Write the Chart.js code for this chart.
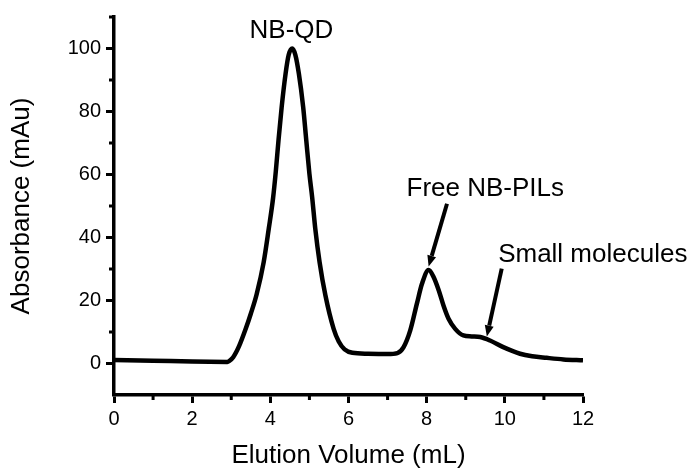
<!DOCTYPE html>
<html>
<head>
<meta charset="utf-8">
<script src="https://cdn.jsdelivr.net/npm/chart.js@4.4.1/dist/chart.umd.min.js"></script>
<style>
  html, body { margin: 0; padding: 0; background: #fff; }
  #wrap { width: 693px; height: 471px; }
</style>
</head>
<body>
<div id="wrap"><canvas id="chart" width="693" height="471"></canvas></div>
<script>
// elution trace
const volume = [0, 1, 2, 2.9, 2.95, 3.05, 3.2, 3.37, 3.5, 3.65, 3.83, 3.96, 4.07, 4.14, 4.21, 4.29, 4.39, 4.47, 4.56,
  4.64, 4.73, 4.84, 4.92, 5.0, 5.07, 5.15, 5.26, 5.41, 5.62, 5.75, 5.9, 6.1, 6.5, 7.0, 7.25, 7.41, 7.58, 7.75, 7.88,
  8.05, 8.18, 8.31, 8.43, 8.56, 8.73, 8.94, 9.15, 9.37, 9.62, 9.96, 10.39, 10.7, 11.07, 11.5, 12];
const absorbance = [1.1, 0.9, 0.6, 0.5, 0.8, 2, 5.5, 11, 15.8, 22, 32.2, 42.8, 52.5, 61, 71, 81.4, 92, 98, 100,
  98, 92, 81.4, 70.8, 60.2, 52.8, 42.8, 32.2, 21.6, 11, 7, 4.5, 3.4, 3.1, 3.0, 3.3, 5.2, 10.5, 19, 25.3,
  29.7, 27.4, 23.2, 18.4, 14.2, 11, 8.9, 8.6, 8.4, 7.3, 5.2, 3.1, 2.3, 1.8, 1.3, 1.0];

const xTicks = [0, 2, 4, 6, 8, 10, 12];
const xMinorTicks = [1, 3, 5, 7, 9, 11];
const yTicks = [0, 20, 40, 60, 80, 100];
const yMinorTicks = [10, 30, 50, 70, 90, 110];
const peakNames = ["NB-QD", "Free NB-PILs", "Small molecules"];

const FONT = "'Liberation Sans', Arial, Helvetica, sans-serif";

// text anchor (centre / baseline) and arrow start -> tip, in axis units
const callouts = [
  { text: peakNames[0], x: 4.54, y: 103.2 },
  { text: peakNames[1], x: 9.5, y: 53.3, arrow: [8.52, 50.7, 8.05, 30.8] },
  { text: peakNames[2], x: 12.25, y: 32.1, arrow: [9.92, 30.1, 9.54, 8.6] },
];

const minorTicks = {
  id: "minorTicks",
  afterDraw(chart) {
    const { ctx, chartArea, scales: { x, y } } = chart;
    ctx.save();
    ctx.strokeStyle = "#000";
    ctx.lineWidth = 3;
    ctx.beginPath();
    xMinorTicks.forEach((v) => {
      const px = x.getPixelForValue(v);
      ctx.moveTo(px, chartArea.bottom);
      ctx.lineTo(px, chartArea.bottom + 5);
    });
    yMinorTicks.forEach((v) => {
      const py = y.getPixelForValue(v);
      ctx.moveTo(chartArea.left, py);
      ctx.lineTo(chartArea.left - 5, py);
    });
    ctx.stroke();
    ctx.restore();
  },
};

const peakCallouts = {
  id: "peakCallouts",
  afterDatasetsDraw(chart) {
    const { ctx, scales: { x, y } } = chart;
    ctx.save();
    ctx.fillStyle = "#000";
    ctx.strokeStyle = "#000";
    ctx.font = "26px " + FONT;
    ctx.textAlign = "center";
    ctx.textBaseline = "alphabetic";
    callouts.forEach((c) => {
      ctx.fillText(c.text, x.getPixelForValue(c.x), y.getPixelForValue(c.y));
      if (!c.arrow) return;
      const x0 = x.getPixelForValue(c.arrow[0]);
      const y0 = y.getPixelForValue(c.arrow[1]);
      const x1 = x.getPixelForValue(c.arrow[2]);
      const y1 = y.getPixelForValue(c.arrow[3]);
      const ang = Math.atan2(y1 - y0, x1 - x0);
      const headLen = 11, headW = 4.5;
      const bx = x1 - headLen * Math.cos(ang);
      const by = y1 - headLen * Math.sin(ang);
      ctx.lineWidth = 4;
      ctx.lineCap = "butt";
      ctx.beginPath();
      ctx.moveTo(x0, y0);
      ctx.lineTo(bx, by);
      ctx.stroke();
      ctx.beginPath();
      ctx.moveTo(x1, y1);
      ctx.lineTo(bx + headW * Math.sin(ang), by - headW * Math.cos(ang));
      ctx.lineTo(bx - headW * Math.sin(ang), by + headW * Math.cos(ang));
      ctx.closePath();
      ctx.fill();
    });
    ctx.restore();
  },
};

const axisGrid = { drawOnChartArea: false, drawTicks: true, tickLength: 8, tickWidth: 3, tickColor: "#000" };
const axisBorder = { display: true, color: "#000", width: 3.5 };

new Chart(document.getElementById("chart"), {
  type: "line",
  data: {
    datasets: [{
      data: volume.map((v, i) => ({ x: v, y: absorbance[i] })),
      borderColor: "#000",
      borderWidth: 4.5,
      pointRadius: 0,
      cubicInterpolationMode: "monotone",
      fill: false,
    }],
  },
  options: {
    responsive: false,
    animation: false,
    layout: { padding: { left: 0, right: 110, top: 15, bottom: 0 } },
    plugins: { legend: { display: false }, tooltip: { enabled: false } },
    scales: {
      x: {
        type: "linear",
        min: 0,
        max: 12,
        afterBuildTicks: (s) => { s.ticks = xTicks.map((v) => ({ value: v })); },
        afterFit: (s) => { s.height = 76; },
        grid: axisGrid,
        border: axisBorder,
        ticks: { color: "#000", font: { family: FONT, size: 20 }, padding: 4, maxRotation: 0, autoSkip: false },
        title: { display: true, text: "Elution Volume (mL)", color: "#000", font: { family: FONT, size: 26 }, padding: { top: 0, bottom: 0 } },
      },
      y: {
        min: -10,
        max: 110,
        afterBuildTicks: (s) => { s.ticks = yTicks.map((v) => ({ value: v })); },
        afterFit: (s) => { s.width = 114; },
        grid: axisGrid,
        border: axisBorder,
        ticks: { color: "#000", font: { family: FONT, size: 20 }, padding: 5, autoSkip: false },
        title: { display: true, text: "Absorbance (mAu)", color: "#000", font: { family: FONT, size: 26 }, padding: { top: 6, bottom: 0 } },
      },
    },
  },
  plugins: [minorTicks, peakCallouts],
});
</script>
</body>
</html>
